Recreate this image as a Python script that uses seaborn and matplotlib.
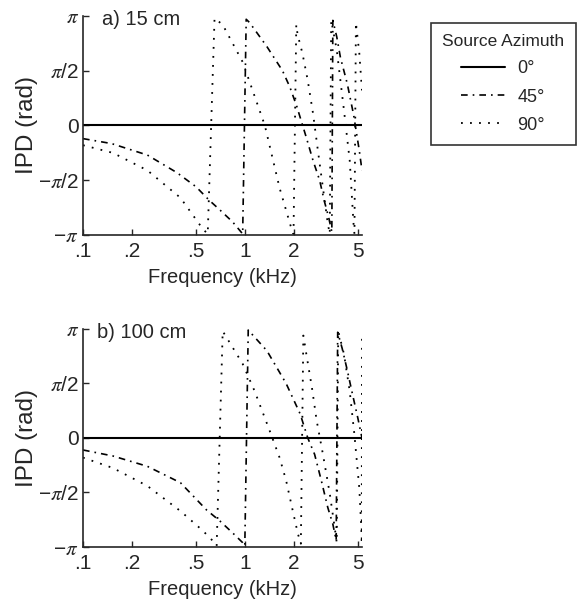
import matplotlib
matplotlib.use('Agg')
import matplotlib.pyplot as plt
from matplotlib.ticker import NullLocator
import seaborn as sns
import numpy as np
import pandas as pd

# frequency (kHz) and IPD (in units of pi)
zero_f = [0.1, 5.3]
zero_v = [0.0, 0.0]

# a) 15 cm
f45_a = [0.1, 0.15, 0.25, 0.38, 0.5, 0.6, 0.7, 0.84, 0.97, 1.02, 1.07, 1.37, 1.71,
         1.9, 2.1, 2.4, 2.64, 2.9, 3.1, 3.3, 3.45, 3.5, 3.7, 3.9, 4.3, 4.7, 5.1, 5.3]
v45_a = [-0.12, -0.165, -0.27, -0.43, -0.56, -0.68, -0.77, -0.88, -0.99, 0.97, 0.94,
         0.72, 0.5, 0.35, 0.17, -0.11, -0.32, -0.5, -0.69, -0.84, -0.97, 0.96, 0.81,
         0.62, 0.38, 0.1, -0.23, -0.41]
f90_a = [0.1, 0.153, 0.25, 0.4, 0.55, 0.59, 0.65, 0.73, 0.97, 1.33, 1.64, 1.94, 2.0,
         2.08, 2.12, 2.27, 2.45, 2.64, 2.83, 3.04, 3.26, 3.35, 3.42, 3.7, 4.1, 4.45,
         4.7, 4.76, 4.86, 5.1, 5.3]
v90_a = [-0.18, -0.25, -0.41, -0.66, -0.945, -0.99, 0.98, 0.92, 0.58, 0.0, -0.57,
         -0.94, -0.99, 0.92, 0.83, 0.66, 0.41, 0.11, -0.23, -0.57, -0.9, -0.99, 0.96,
         0.69, 0.14, -0.32, -0.9, -0.99, 0.94, 0.66, 0.32]

# b) 100 cm
f45_b = [0.1, 0.153, 0.25, 0.4, 0.58, 0.7, 0.84, 0.97, 1.0, 1.05, 1.37, 1.8, 2.2,
         2.45, 2.7, 2.97, 3.26, 3.5, 3.67, 3.75, 4.0, 4.3, 4.6, 5.0, 5.3]
v45_b = [-0.11, -0.165, -0.26, -0.41, -0.66, -0.76, -0.87, -0.96, -0.99, 0.99, 0.8,
         0.5, 0.22, 0.0, -0.15, -0.39, -0.64, -0.79, -0.94, 0.97, 0.82, 0.62, 0.42,
         0.18, 0.0]
f90_b = [0.1, 0.153, 0.25, 0.4, 0.55, 0.65, 0.67, 0.73, 0.97, 1.15, 1.43, 1.64, 1.8,
         1.98, 2.13, 2.22, 2.3, 2.4, 2.6, 2.78, 3.04, 3.35, 3.6, 3.7, 3.78, 4.1, 4.45,
         4.75, 5.1, 5.25, 5.28, 5.3]
v90_b = [-0.18, -0.275, -0.44, -0.67, -0.85, -0.96, -0.99, 0.98, 0.68, 0.43, 0.06,
         -0.18, -0.39, -0.67, -0.88, -0.97, 0.94, 0.77, 0.46, 0.16, -0.15, -0.51,
         -0.83, -0.96, 0.98, 0.77, 0.43, 0.04, -0.46, -0.83, -0.97, 0.97]

azimuths = ['0°', '45°', '90°']
xticks = [0.1, 0.2, 0.5, 1, 2, 5]
xticklabels = ['.1', '.2', '.5', '1', '2', '5']
yticks = [-np.pi, -np.pi / 2, 0, np.pi / 2, np.pi]
yticklabels = ['\u2212$\\pi$', '\u2212$\\pi$/2', '0', '$\\pi$/2', '$\\pi$']


def make_df(f45, v45, f90, v90):
    rows = []
    for az, f, v in zip(azimuths, [zero_f, f45, f90], [zero_v, v45, v90]):
        for fi, vi in zip(f, v):
            rows.append({'freq': fi, 'ipd': vi * np.pi, 'az': az})
    return pd.DataFrame(rows)


sns.set_style('ticks')
plt.rcParams['font.family'] = ['Liberation Sans', 'DejaVu Sans']
plt.rcParams['mathtext.fontset'] = 'stix'

fig = plt.figure(figsize=(5.78, 5.99), dpi=100)
ax1 = fig.add_axes([0.1436, 0.6077, 0.4827, 0.3656])
ax2 = fig.add_axes([0.1436, 0.0868, 0.4827, 0.364])

dashes = {'0°': '', '45°': (4, 3, 1, 3), '90°': (1, 4)}
palette = {a: 'black' for a in azimuths}
sizes = {'0°': 1.5, '45°': 1.2, '90°': 1.3}

panels = [(ax1, make_df(f45_a, v45_a, f90_a, v90_a), 'a) 15 cm', 0.068),
          (ax2, make_df(f45_b, v45_b, f90_b, v90_b), 'b) 100 cm', 0.05)]

for ax, df, title, tx in panels:
    sns.lineplot(data=df, x='freq', y='ipd', hue='az', style='az', size='az',
                 palette=palette, dashes=dashes, sizes=sizes, sort=False,
                 estimator=None, ax=ax, legend=(ax is ax1))
    ax.set_xscale('log')
    ax.set_xlim(0.1, 5.3)
    ax.set_ylim(-np.pi, np.pi)
    ax.set_xticks(xticks)
    ax.set_xticklabels(xticklabels)
    ax.xaxis.set_minor_locator(NullLocator())
    ax.set_yticks(yticks)
    ax.set_yticklabels(yticklabels)
    ax.tick_params(direction='in', length=4, width=1, labelsize=15, pad=3)
    ax.tick_params(axis='x', pad=5)
    ax.set_xlabel('Frequency (kHz)', fontsize=14.5, labelpad=5)
    ax.set_ylabel('IPD (rad)', fontsize=17.5, labelpad=0)
    for s in ['top', 'right']:
        ax.spines[s].set_visible(False)
    for s in ['left', 'bottom']:
        ax.spines[s].set_linewidth(1.2)
    ax.text(tx, 0.985, title, transform=ax.transAxes, fontsize=14.5,
            ha='left', va='center')

handles, labels = ax1.get_legend_handles_labels()
ax1.get_legend().remove()
leg = fig.legend(handles, labels, title='Source Azimuth', loc='upper left',
                 bbox_to_anchor=(431 / 578, 1 - 23 / 599), borderaxespad=0,
                 fontsize=13, title_fontsize=12.5, frameon=True, fancybox=False,
                 edgecolor='black', handlelength=2.4, handletextpad=0.7,
                 labelspacing=0.62, borderpad=0.62)
leg.get_frame().set_linewidth(1.2)

fig.savefig('out.png', dpi=100)
plt.close(fig)
